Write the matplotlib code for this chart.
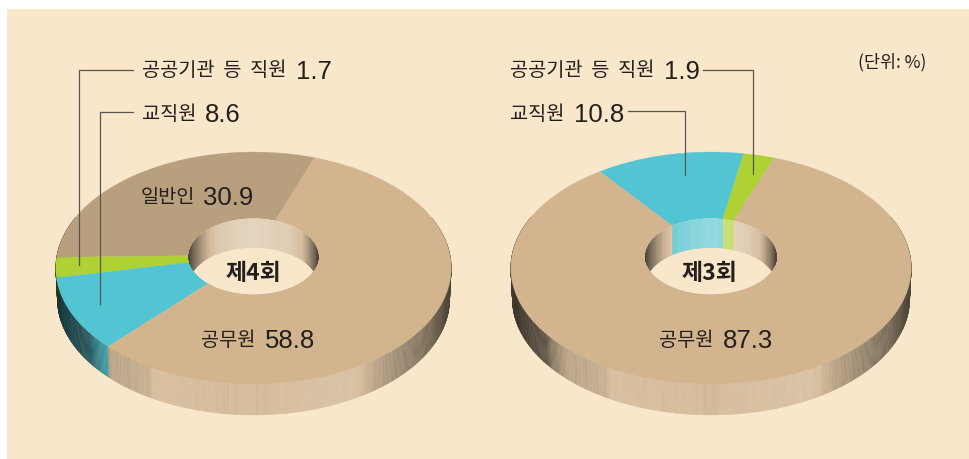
import numpy as np
import matplotlib
matplotlib.use("Agg")
import matplotlib.pyplot as plt
from matplotlib.collections import PolyCollection
from matplotlib.patches import Polygon, Rectangle

plt.rcParams["font.family"] = ["Noto Sans CJK KR", "DejaVu Sans"]

# ----------------------------------------------------------
# Data
# ----------------------------------------------------------
names = ["일반인", "공공기관  등  직원", "교직원", "공무원"]

# printed values, 제4회 and 제3회
values_4th = [30.9, 1.7, 8.6, 58.8]
values_3rd = [0.0, 1.9, 10.8, 87.3]

# share of the ring each slice takes as it is drawn in the picture,
# the small slices are drawn wider than their printed value
drawn_4th = [30.9, 2.8, 10.0, 56.3]
drawn_3rd = [0.0, 2.8, 13.3, 83.9]

colors = ["#b8a07f", "#aed133", "#53c5d2", "#d2b48e"]
wall_colors = ["#d6bd9d", "#aed133", "#53c5d2", "#d6bd9d"]

BG = "#f9e7cb"
INK = "#231f1c"
LINE = "#5a5550"

# perspective of the disc
K = -0.112
G = 114.5
CY = 255
HOLE = 0.33
OUTER_DEPTH = 31
INNER_DEPTH = 29

# brightness along the walls, below 1 darkens, above 1 goes to white
outer_u = [-1.0, -0.9, -0.83, -0.8, -0.72, -0.62, -0.53, -0.5, 0.0, 0.3, 0.5, 0.56, 0.62, 0.8, 0.9, 1.0]
outer_s = [0.28, 0.38, 0.45, 0.64, 0.88, 0.9, 0.94, 1.03, 0.99, 1.05, 1.08, 0.98, 0.88, 0.68, 0.56, 0.36]
inner_u = [-1.0, -0.92, -0.75, -0.5, 0.0, 0.5, 0.75, 0.92, 1.0]
inner_s = [0.35, 0.55, 0.88, 1.2, 1.35, 1.25, 1.0, 0.6, 0.35]


# ----------------------------------------------------------
# Disc plane to picture
# ----------------------------------------------------------
def project(theta, r, cx, f):
    t = np.radians(theta)
    x = r * np.sin(t)
    y = -r * np.cos(t)
    w = 1 + K * y
    return cx + f * x / w, CY + G * y / w


def shade(base, s):
    rgb = np.array(matplotlib.colors.to_rgb(base))
    if s <= 1:
        return tuple(rgb * max(s, 0))
    return tuple(rgb + (1 - rgb) * min(s - 1, 1))


def grain(x):
    return 0.012 * np.sin(x * 1.7) + 0.01 * np.sin(x * 0.63) + 0.008 * np.sin(x * 3.1)


def slice_of(theta, edges):
    # edges run counter-clockwise from the start angle
    for i in range(len(edges) - 1):
        if edges[i + 1] <= theta <= edges[i]:
            return i
    return len(edges) - 2


# ----------------------------------------------------------
# One ring
# ----------------------------------------------------------
def draw_ring(ax, cx, f, start, drawn):
    edges = start - np.concatenate([[0], np.cumsum(drawn)]) * 3.6

    def wrapped(theta):
        while theta > start:
            theta -= 360
        while theta < start - 360:
            theta += 360
        return theta

    # outer wall
    step = 0.5
    polys, cols = [], []
    for a in np.arange(-110, 110, step) + 180:
        x0, y0 = project(a, 1, cx, f)
        x1, y1 = project(a + step, 1, cx, f)
        xb0 = cx + (x0 - cx) * 0.992
        xb1 = cx + (x1 - cx) * 0.992
        polys.append([(x0, y0), (x1, y1), (xb1, y1 + OUTER_DEPTH), (xb0, y0 + OUTER_DEPTH)])
        u = (x0 - cx) / f
        s = np.interp(u, outer_u, outer_s) + grain(x0)
        cols.append(shade(wall_colors[slice_of(wrapped(a), edges)], s))
    ax.add_collection(PolyCollection(polys, facecolors=cols, edgecolors=cols, linewidths=0.3, zorder=2))

    # top face
    for i in range(len(drawn)):
        if drawn[i] == 0:
            continue
        t = np.linspace(edges[i], edges[i + 1], 200)
        xo, yo = project(t, 1, cx, f)
        xi, yi = project(t[::-1], HOLE, cx, f)
        pts = np.column_stack([np.r_[xo, xi], np.r_[yo, yi]])
        ax.add_patch(Polygon(pts, closed=True, facecolor=colors[i], edgecolor=colors[i], linewidth=0.2, zorder=3))

    # inside of the hole
    t = np.linspace(0, 360, 240)
    hx, hy = project(t, HOLE, cx, f)
    hole = Polygon(np.column_stack([hx, hy]), closed=True, facecolor=BG, edgecolor="none", zorder=4)
    ax.add_patch(hole)

    polys, cols = [], []
    step = 1.0
    for a in np.arange(-105, 105, step):
        x0, y0 = project(a, HOLE, cx, f)
        x1, y1 = project(a + step, HOLE, cx, f)
        polys.append([(x0, y0), (x1, y1), (x1, y1 + INNER_DEPTH), (x0, y0 + INNER_DEPTH)])
        u = (x0 - cx) / (f * HOLE)
        s = np.interp(u, inner_u, inner_s) + grain(x0 * 1.4)
        cols.append(shade(wall_colors[slice_of(wrapped(a), edges)], s))
    wall = PolyCollection(polys, facecolors=cols, edgecolors=cols, linewidths=0.3, zorder=5)
    ax.add_collection(wall)
    wall.set_clip_path(hole)


# ----------------------------------------------------------
# Labels
# ----------------------------------------------------------
def label(ax, x, y, name, xv, value):
    ax.text(x, y, name, fontsize=14.2, color=INK, ha="left", va="center", zorder=8)
    ax.text(xv, y + 1, f"{value:.1f}", fontsize=18.5, color=INK, ha="left", va="center",
            family=["Liberation Sans", "DejaVu Sans"], zorder=8)


def leader(ax, xs, ys):
    ax.plot(xs, ys, color=LINE, lw=0.9, solid_joinstyle="miter", zorder=7)


def main():
    fig = plt.figure(figsize=(9.7, 4.59), dpi=100, facecolor="white")
    ax = fig.add_axes([0, 0, 1, 1])
    ax.set_xlim(0, 970)
    ax.set_ylim(459, 0)
    ax.axis("off")
    ax.add_patch(Rectangle((7, 9), 963, 450, facecolor=BG, edgecolor="none", zorder=0))

    draw_ring(ax, 253.5, 196.5, 20.1, drawn_4th)
    draw_ring(ax, 711, 199, 20.5, drawn_3rd)

    leader(ax, [133, 79.5, 79.5], [69.5, 69.5, 265])
    leader(ax, [133, 100.5, 100.5], [112, 112, 304])
    leader(ax, [703, 753.5, 753.5], [69.5, 69.5, 174])
    leader(ax, [628, 685.5, 685.5], [111, 111, 174.5])

    label(ax, 142, 71, names[1], 296, values_4th[1])
    label(ax, 142, 114, names[2], 205, values_4th[2])
    label(ax, 141, 197, names[0], 203, values_4th[0])
    label(ax, 201, 340, names[3], 265, values_4th[3])

    label(ax, 510, 71, names[1], 664, values_3rd[1])
    label(ax, 510, 114, names[2], 574, values_3rd[2])
    label(ax, 659, 340, names[3], 723, values_3rd[3])

    ax.text(253.5, 274, "제4회", fontsize=16.5, fontweight="bold", color=INK, ha="center", va="center", zorder=8)
    ax.text(709.5, 274, "제3회", fontsize=16.5, fontweight="bold", color=INK, ha="center", va="center", zorder=8)
    ax.text(926, 62, "(단위: %)", fontsize=12.5, color=INK, ha="right", va="center", zorder=8)

    fig.savefig("out.png", dpi=100, facecolor="white")


if __name__ == "__main__":
    main()
